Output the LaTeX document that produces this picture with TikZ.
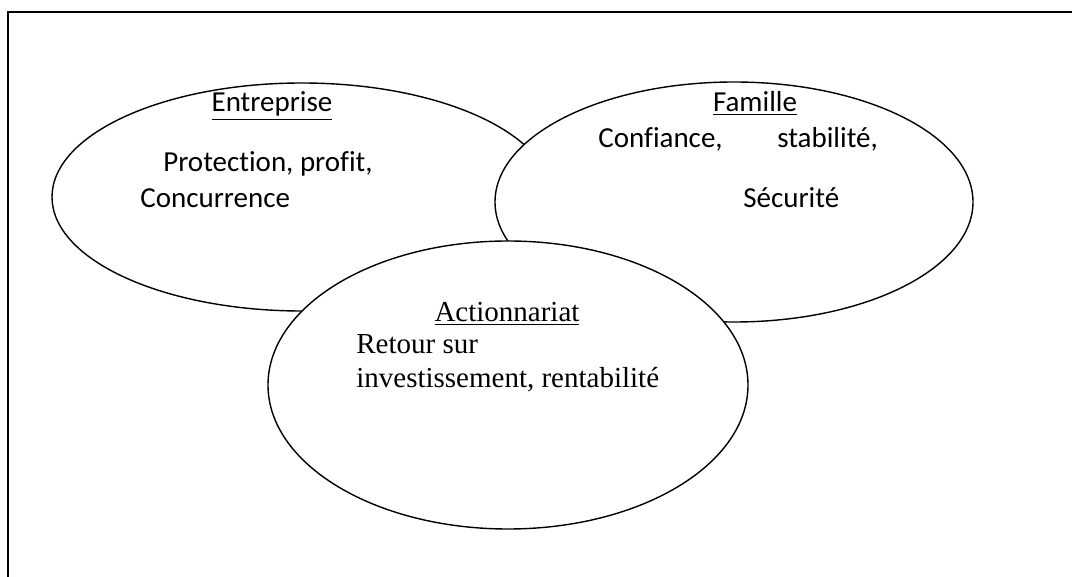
\documentclass[tikz,border=0pt]{standalone}
\usepackage{fontspec}
\setmainfont{Liberation Serif}
\newfontfamily\calibri[Ligatures=NoCommon]{Carlito}
\usepackage{tikz}

\begin{document}
\begin{tikzpicture}[x=0.02cm, y=-0.02cm,
  sans/.style={font=\calibri\fontsize{16.5}{20}\selectfont, inner sep=0pt},
  serif/.style={font=\fontsize{16.5}{20}\selectfont, inner sep=0pt}]

\useasboundingbox (0,0) rectangle (1072,577);
\draw[line width=1.3pt] (8,577) -- (8,12) -- (1072,12);

\filldraw[fill=white, line width=0.8pt] (302,197) ellipse [x radius=250, y radius=114];
\filldraw[fill=white, line width=0.8pt] (734,202) ellipse [x radius=239, y radius=120];
\filldraw[fill=white, line width=0.8pt] (508,385) ellipse [x radius=240, y radius=144];

\node[sans, anchor=base] (ent) at (272,112) {\underline{Entreprise}};
\node[sans, anchor=base west] (ent1) at (163,172) {Protection, profit,};
\node[sans, anchor=base west] (ent2) at (140,208) {Concurrence};

\node[sans, anchor=base] (fam) at (755,112) {\underline{Famille}};
\node[sans, anchor=base west] (fam1) at (598,148) {Confiance,};
\node[sans, anchor=base west] (fam2) at (777,148) {stabilité,};
\node[sans, anchor=base west] (fam3) at (743,208) {Sécurité};

\node[serif, anchor=base] (act) at (507,322) {\underline{Actionnariat}};
\node[serif, anchor=base west] (act1) at (356,354) {Retour sur};
\node[serif, anchor=base west] (act2) at (356,388) {investissement, rentabilité};

\end{tikzpicture}
\end{document}
